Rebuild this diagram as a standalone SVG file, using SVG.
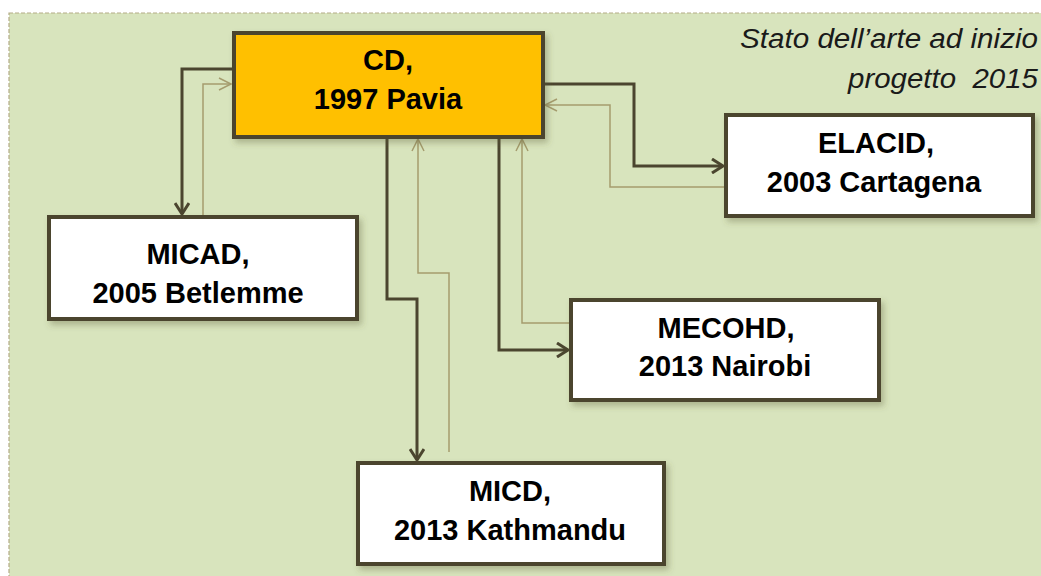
<svg xmlns="http://www.w3.org/2000/svg" width="1041" height="576" viewBox="0 0 1041 576">
<defs>
<style>
.node rect{stroke:#4b452f;stroke-width:4;}
.lbl{font-family:"Liberation Sans",Arial,sans-serif;font-weight:bold;font-size:29px;fill:#000;text-anchor:middle;}
.note{font-family:"Liberation Sans",Arial,sans-serif;font-style:italic;font-size:27px;fill:#1a1a1a;text-anchor:end;}
.dark{fill:none;stroke:#4b452f;stroke-width:3;}
.light{fill:none;stroke:#a59c6e;stroke-width:1.5;}
</style>
<filter id="sh" x="-10%" y="-10%" width="130%" height="140%">
<feDropShadow dx="3" dy="4" stdDeviation="3" flood-color="#5a5a30" flood-opacity="0.35"/>
</filter>
<marker id="ad" markerWidth="16" markerHeight="16" refX="13" refY="8" orient="auto" markerUnits="userSpaceOnUse">
<path d="M2,1 L13,8 L2,15" fill="none" stroke="#4b452f" stroke-width="3"/>
</marker>
<marker id="al" markerWidth="16" markerHeight="16" refX="13" refY="8" orient="auto" markerUnits="userSpaceOnUse">
<path d="M1,2 L13,8 L1,14" fill="none" stroke="#a59c6e" stroke-width="1.5"/>
</marker>
</defs>
<rect x="0" y="0" width="1041" height="576" fill="#ffffff"/>
<rect x="9" y="13" width="1050" height="580" fill="#d8e4bd" stroke="#b3ab85" stroke-width="1.2" stroke-dasharray="4,2"/>
<g id="note">
<text class="note" x="1038" y="48" textLength="298" lengthAdjust="spacingAndGlyphs">Stato dell’arte ad inizio</text>
<text class="note" x="1038" y="88" textLength="190" lengthAdjust="spacingAndGlyphs" xml:space="preserve">progetto  2015</text>
</g>
<g id="connectors">
<polyline class="dark" points="233,69 182,69 182,214" marker-end="url(#ad)"/>
<polyline class="light" points="203,216 203,84 231,84" marker-end="url(#al)"/>
<polyline class="dark" points="387,137 387,299 417,299 417,460" marker-end="url(#ad)"/>
<polyline class="light" points="449,452 449,273 418,273 418,139" marker-end="url(#al)"/>
<polyline class="dark" points="499,137 499,350 568,350" marker-end="url(#ad)"/>
<polyline class="light" points="570,323 522,323 522,139" marker-end="url(#al)"/>
<polyline class="dark" points="543,84 634,84 634,166 723,166" marker-end="url(#ad)"/>
<polyline class="light" points="725,187 610,187 610,105 545,105" marker-end="url(#al)"/>
</g>
<g id="cd" class="node">
<rect x="234" y="33" width="309" height="104" fill="#ffc000" filter="url(#sh)"/>
<text class="lbl" x="388" y="70">CD,</text>
<text class="lbl" x="388" y="109">1997 Pavia</text>
</g>
<g id="elacid" class="node">
<rect x="726" y="115" width="307" height="101" fill="#ffffff" filter="url(#sh)"/>
<text class="lbl" x="876" y="153">ELACID,</text>
<text class="lbl" x="874" y="192">2003 Cartagena</text>
</g>
<g id="micad" class="node">
<rect x="49" y="217" width="308" height="102" fill="#ffffff" filter="url(#sh)"/>
<text class="lbl" x="198" y="264">MICAD,</text>
<text class="lbl" x="198" y="303">2005 Betlemme</text>
</g>
<g id="mecohd" class="node">
<rect x="571" y="300" width="308" height="100" fill="#ffffff" filter="url(#sh)"/>
<text class="lbl" x="726" y="338">MECOHD,</text>
<text class="lbl" x="725" y="376">2013 Nairobi</text>
</g>
<g id="micd" class="node">
<rect x="358" y="463" width="306" height="101" fill="#ffffff" filter="url(#sh)"/>
<text class="lbl" x="510" y="501">MICD,</text>
<text class="lbl" x="510" y="540">2013 Kathmandu</text>
</g>
</svg>
